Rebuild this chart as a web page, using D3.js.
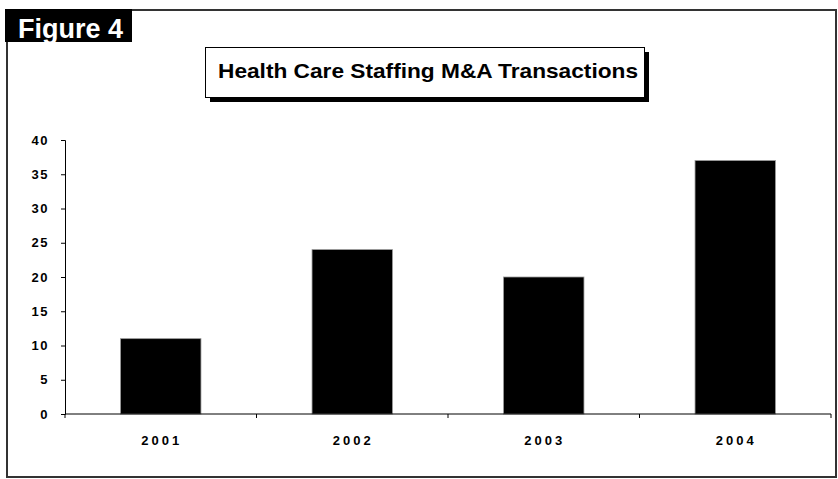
<!DOCTYPE html>
<html>
<head>
<meta charset="utf-8">
<script src="https://cdn.jsdelivr.net/npm/d3@7"></script>
<style>
  body { margin: 0; background: #fff; }
  text { font-family: "Liberation Sans", Arial, sans-serif; }
</style>
</head>
<body>
<script>
// данные
let years = ["2001", "2002", "2003", "2004"];
let deals = [11, 24, 20, 37];
let yTicks = [0, 5, 10, 15, 20, 25, 30, 35, 40];

let width = 838, height = 479;

const svg = d3.select("body").append("svg")
  .attr("width", width)
  .attr("height", height);

// рамка
svg.append("path")
  .attr("d", "M131,10 H836 V477 H7 V41")
  .style("fill", "none")
  .style("stroke", "#333")
  .style("stroke-width", 2);

// Figure 4
svg.append("rect")
  .attr("x", 5).attr("y", 9)
  .attr("width", 127).attr("height", 33)
  .style("fill", "#000");

svg.append("text")
  .text("Figure 4")
  .attr("x", 18).attr("y", 38)
  .attr("textLength", 105)
  .attr("lengthAdjust", "spacingAndGlyphs")
  .style("fill", "#fff")
  .style("font-size", "27px")
  .style("font-weight", "bold");

// заголовок с тенью
svg.append("rect")
  .attr("x", 210).attr("y", 52)
  .attr("width", 439).attr("height", 50)
  .style("fill", "#000");

svg.append("rect")
  .attr("x", 205.5).attr("y", 47.5)
  .attr("width", 439).attr("height", 50)
  .style("fill", "#fff")
  .style("stroke", "#000")
  .style("stroke-width", 1);

svg.append("text")
  .text("Health Care Staffing M&A Transactions")
  .attr("x", 218).attr("y", 78)
  .attr("textLength", 420)
  .attr("lengthAdjust", "spacingAndGlyphs")
  .style("font-size", "21px")
  .style("font-weight", "bold");

// шкалы
let x = d3.scaleBand()
  .domain(years)
  .range([65, 831])
  .paddingInner(0.58)
  .paddingOuter(0.29);

let y = d3.scaleLinear()
  .domain([0, 40])
  .range([414, 140]);

// столбцы
svg.append("g")
  .selectAll("rect")
  .data(deals)
  .join("rect")
  .attr("x", (d, i) => x(years[i]))
  .attr("y", d => y(d))
  .attr("width", x.bandwidth())
  .attr("height", d => y(0) - y(d))
  .style("fill", "#000")
  .style("stroke", "#999")
  .style("stroke-width", 0.8);

// ось Y
let yAxis = svg.append("g")
  .attr("transform", "translate(65,0)")
  .call(d3.axisLeft(y).tickValues(yTicks).tickSize(4).tickPadding(12));

yAxis.select(".domain").attr("stroke", "#000");
yAxis.selectAll("text")
  .style("font-size", "13px")
  .style("font-weight", "bold")
  .style("letter-spacing", "1.5px")
  .attr("fill", "#000");

// ось X: засечки на границах категорий
let xEdges = [65].concat(years.map(d => x(d) + x.bandwidth() + x.step() * 0.29));
let xAxis = svg.append("g");

xAxis.append("line")
  .attr("x1", 65).attr("x2", 831)
  .attr("y1", y(0)).attr("y2", y(0))
  .style("stroke", "#000");

xAxis.selectAll("line.tick")
  .data(xEdges)
  .join("line")
  .attr("class", "tick")
  .attr("x1", d => d).attr("x2", d => d)
  .attr("y1", y(0)).attr("y2", y(0) + 4)
  .style("stroke", "#000");

xAxis.selectAll("text")
  .data(years)
  .join("text")
  .attr("x", d => x(d) + x.bandwidth() / 2 + 1)
  .attr("y", 445)
  .attr("text-anchor", "middle")
  .style("font-size", "13px")
  .style("font-weight", "bold")
  .style("letter-spacing", "3px")
  .text(d => d);
</script>
</body>
</html>
